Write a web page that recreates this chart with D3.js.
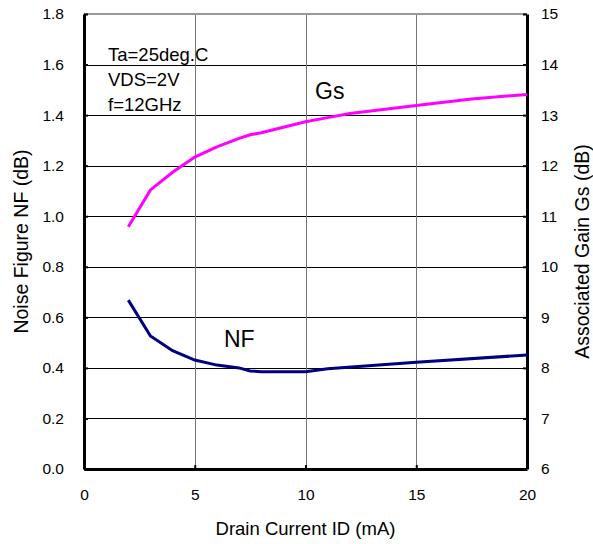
<!DOCTYPE html>
<html>
<head>
<meta charset="utf-8">
<script src="https://cdn.jsdelivr.net/npm/d3@7"></script>
<style>
  body { margin: 0; background: #fff; }
  svg { display: block; font-family: "Liberation Sans", Arial, sans-serif; }
</style>
</head>
<body>
<svg id="chart" width="593" height="544"></svg>
<script>
// Drain current (mA)
var currentNF = [2, 3, 4, 5, 6, 7, 7.5, 8, 9, 10, 11, 15, 20];
// Noise figure NF (dB)
var nfValues = [0.668, 0.526, 0.468, 0.431, 0.411, 0.400, 0.388, 0.385, 0.385, 0.385, 0.397, 0.422, 0.451];

var currentGs = [2, 3, 4, 5, 6, 7, 7.5, 8, 9, 10, 11, 12, 15, 17.5, 20];
// Associated gain Gs (dB)
var gsValues = [10.79, 11.52, 11.87, 12.17, 12.37, 12.54, 12.61, 12.65, 12.76, 12.87, 12.95, 13.03, 13.19, 13.32, 13.41];

var xTicks = [0, 5, 10, 15, 20];
var nfTicks = [0, 0.2, 0.4, 0.6, 0.8, 1.0, 1.2, 1.4, 1.6, 1.8];
var gsTicks = [6, 7, 8, 9, 10, 11, 12, 13, 14, 15];
var notes = ['Ta=25deg.C', 'VDS=2V', 'f=12GHz'];

// plot box
var margin = {top: 14, right: 66, bottom: 75, left: 84};
var width = 593 - margin.left - margin.right,
    height = 544 - margin.top - margin.bottom;

var svg = d3.select('#chart');
var g = svg.append('g')
  .attr('transform', 'translate(' + margin.left + ',' + margin.top + ')');

var x = d3.scaleLinear().domain([0, 20]).range([0, width]);
var yNF = d3.scaleLinear().domain([0, 1.8]).range([height, 0]);
var yGs = d3.scaleLinear().domain([6, 15]).range([height, 0]);

// Grid lines
g.selectAll('.hgrid')
  .data(nfTicks.slice(1, -1)).enter()
  .append('line')
  .attr('x1', 0).attr('x2', width)
  .attr('y1', function(d) { return Math.round(yNF(d)) + 0.5; })
  .attr('y2', function(d) { return Math.round(yNF(d)) + 0.5; })
  .style('stroke', '#000').style('stroke-width', 1);

g.selectAll('.vgrid')
  .data(xTicks.slice(1, -1)).enter()
  .append('line')
  .attr('y1', 0).attr('y2', height)
  .attr('x1', function(d) { return Math.round(x(d)) + 0.5; })
  .attr('x2', function(d) { return Math.round(x(d)) + 0.5; })
  .style('stroke', '#777').style('stroke-width', 1);

// Top border (gray)
g.append('line')
  .attr('x1', 0).attr('x2', width).attr('y1', 0).attr('y2', 0)
  .style('stroke', '#999').style('stroke-width', 2);

// Axes
function styleAxis(sel) {
  sel.select('.domain').style('stroke', '#000').style('stroke-width', 3);
  sel.selectAll('.tick line').style('stroke', '#000').style('stroke-width', 2);
  sel.selectAll('.tick text').style('font-size', '15.5px').style('fill', '#000')
    .style('font-family', '"Liberation Sans", Arial, sans-serif');
}

g.append('g')
  .attr('transform', 'translate(0,' + height + ')')
  .call(d3.axisBottom(x).tickValues(xTicks).tickSizeInner(-4).tickSizeOuter(0).tickPadding(20))
  .call(styleAxis);

g.append('g')
  .call(d3.axisLeft(yNF).tickValues(nfTicks).tickFormat(d3.format('.1f')).tickSizeInner(-4).tickSizeOuter(0).tickPadding(20))
  .call(styleAxis);

g.append('g')
  .attr('transform', 'translate(' + width + ',0)')
  .call(d3.axisRight(yGs).tickValues(gsTicks).tickFormat(d3.format('d')).tickSizeInner(-4).tickSizeOuter(0).tickPadding(14))
  .call(styleAxis);

// Curves
var lineNF = d3.line()
  .x(function(d, i) { return x(currentNF[i]); })
  .y(function(d) { return yNF(d); });

var lineGs = d3.line()
  .x(function(d, i) { return x(currentGs[i]); })
  .y(function(d) { return yGs(d); });

g.append('path')
  .attr('d', lineGs(gsValues))
  .style('fill', 'none').style('stroke', '#ff00ff').style('stroke-width', 3);

g.append('path')
  .attr('d', lineNF(nfValues))
  .style('fill', 'none').style('stroke', '#000080').style('stroke-width', 3);

// Conditions
g.selectAll('.note')
  .data(notes).enter()
  .append('text')
  .attr('x', 24)
  .attr('y', function(d, i) { return 47 + i * 25; })
  .style('font-size', '18.5px')
  .text(function(d) { return d; });

// Curve labels
g.append('text')
  .attr('x', 231).attr('y', 85)
  .style('font-size', '23px')
  .text('Gs');

g.append('text')
  .attr('x', 140).attr('y', 333)
  .style('font-size', '23px')
  .text('NF');

// Axis titles
svg.append('text')
  .attr('x', margin.left + width / 2).attr('y', 535)
  .attr('text-anchor', 'middle')
  .style('font-size', '18.5px')
  .text('Drain Current ID (mA)');

svg.append('text')
  .attr('transform', 'translate(28,' + (margin.top + height / 2) + ') rotate(-90)')
  .attr('text-anchor', 'middle')
  .style('font-size', '19.5px')
  .text('Noise Figure NF (dB)');

svg.append('text')
  .attr('transform', 'translate(589,' + (margin.top + height / 2 + 10) + ') rotate(-90)')
  .attr('text-anchor', 'middle')
  .style('font-size', '19.5px')
  .text('Associated Gain Gs (dB)');
</script>
</body>
</html>
